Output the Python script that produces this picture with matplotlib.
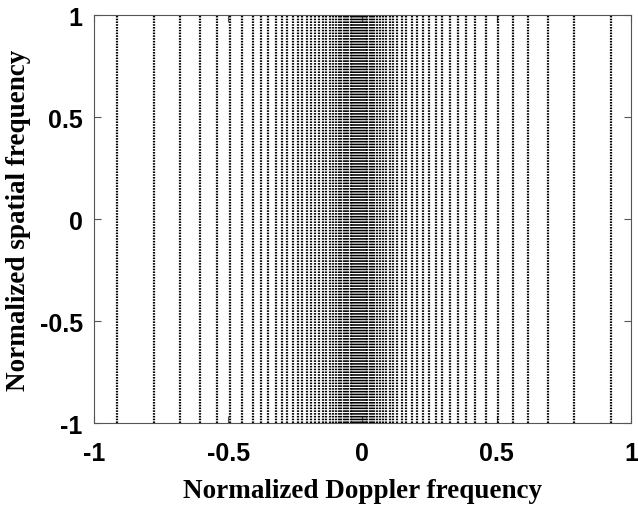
import numpy as np
import matplotlib
matplotlib.use('Agg')
from matplotlib import pyplot as plt

# Doppler bins (normalized), left half then right half
fd_neg = [-0.912, -0.776, -0.680, -0.605, -0.543, -0.493, -0.448, -0.407,
          -0.376, -0.351, -0.323, -0.301, -0.282, -0.260, -0.241, -0.223,
          -0.207, -0.192, -0.176, -0.161, -0.147, -0.134, -0.121, -0.109,
          -0.098, -0.088, -0.078, -0.069, -0.060, -0.052, -0.044, -0.037,
          -0.030, -0.023, -0.016, -0.009, -0.002]
fd_pos = [0.005, 0.012, 0.019, 0.027, 0.035, 0.044, 0.054, 0.065, 0.076,
          0.088, 0.101, 0.115, 0.130, 0.147, 0.164, 0.183, 0.203, 0.225,
          0.249, 0.273, 0.298, 0.326, 0.356, 0.387, 0.421, 0.460, 0.505,
          0.559, 0.617, 0.692, 0.789, 0.924]
fs_range = [-1, 1]

fd = fd_neg + fd_pos

fig = plt.figure(figsize=(6.38, 5.06), dpi=100)
ax = fig.add_axes([0.147, 0.162, 0.842, 0.806])

for x in fd:
    ax.plot([x, x], fs_range, color='black', lw=1.6,
            linestyle=(0, (0.7, 0.55)))

ax.set_xlim(-1, 1)
ax.set_ylim(-1, 1)
ax.set_xticks([-1, -0.5, 0, 0.5, 1])
ax.set_yticks([-1, -0.5, 0, 0.5, 1])
ax.set_xticklabels(['-1', '-0.5', '0', '0.5', '1'])
ax.set_yticklabels(['-1', '-0.5', '0', '0.5', '1'])
ax.tick_params(direction='in', length=5, width=0.8, color='#555555',
               top=True, right=True)
ax.tick_params(axis='x', pad=13)
ax.tick_params(axis='y', pad=8)
for lab in ax.get_xticklabels() + ax.get_yticklabels():
    lab.set_fontfamily('Liberation Sans')
    lab.set_fontweight('bold')
    lab.set_fontsize(18)
for s in ax.spines.values():
    s.set_color('#555555')
    s.set_linewidth(0.8)

ax.set_xlabel('Normalized Doppler frequency', fontfamily='Liberation Serif',
              fontweight='bold', fontsize=19.5, labelpad=9)
ax.set_ylabel('Normalized spatial frequency', fontfamily='Liberation Serif',
              fontweight='bold', fontsize=19.5, labelpad=6)

fig.savefig('out.png', dpi=100)
